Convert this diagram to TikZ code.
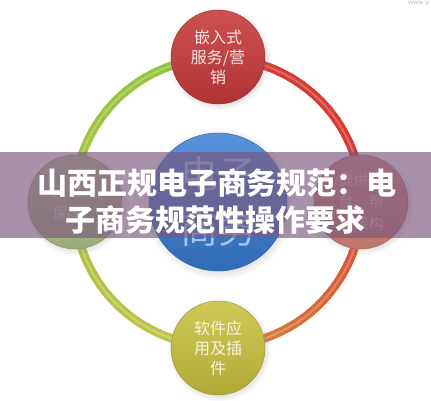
\documentclass[tikz,border=0pt]{standalone}
\usepackage{fontspec}
\newfontfamily\cjk{Noto Sans CJK SC}
\newfontfamily\cjkheavy{Noto Sans CJK SC Black}
\usetikzlibrary{shadows}

\definecolor{ringred}{HTML}{D63A34}
\definecolor{ringorange}{HTML}{D8883C}
\definecolor{ringgreen}{HTML}{8CC43E}
\definecolor{ringyellow}{HTML}{CAC34A}
\definecolor{topred}{HTML}{C83A3A}
\definecolor{sideorange}{HTML}{D88476}
\definecolor{sidegreen}{HTML}{B2C28C}
\definecolor{hubblue}{HTML}{3A7ED6}
\definecolor{lowyellow}{HTML}{C9C13E}
\definecolor{bannerpurple}{HTML}{7A587D}

\tikzset{
  button/.style={circle, inner sep=0pt, minimum size=#1,
    circular drop shadow={opacity=0.25, shadow xshift=1pt, shadow yshift=-1.5pt}},
  buttontext/.style={font=\cjk\fontsize{16}{20}\selectfont, align=center},
  bannertext/.style={font=\cjkheavy\fontsize{30}{30}\selectfont, text=white, inner sep=0pt}
}

\begin{document}
\begin{tikzpicture}[x=1pt,y=1pt]
  \useasboundingbox (0,0) rectangle (431,400);
  \fill[white] (0,0) rectangle (431,400);
  \coordinate (hub) at (218,198);

  % ring, right half red to orange, left half green to yellow
  \foreach \a in {90,85,...,-85} {
    \pgfmathtruncatemacro\p{\a>=20 ? 100 : (\a+90)/1.1}
    \draw[line width=8.5pt, color=ringred!\p!ringorange]
      ([shift={(\a:144pt)}]hub) arc[start angle=\a, end angle=\a-6, radius=144pt];
  }
  \foreach \a in {90,95,...,265} {
    \pgfmathtruncatemacro\p{(270-\a)/1.8}
    \draw[line width=8.5pt, color=ringgreen!\p!ringyellow]
      ([shift={(\a:144pt)}]hub) arc[start angle=\a, end angle=\a+6, radius=144pt];
  }
  \draw[white, opacity=0.25, line width=2pt] (hub) circle[radius=144pt];

  % buttons
  \node[button=94pt, top color=topred!88!white, bottom color=topred!88!black,
    draw=topred!75!black, buttontext, text=topred!15!white]
    (embed) at (218,343) {嵌入式\\服务/营\\销};
  \node[button=94pt, top color=lowyellow!88!white, bottom color=lowyellow!88!black,
    draw=lowyellow!75!black, buttontext, text=lowyellow!15!white]
    (plugin) at (218,52) {软件应\\用及插\\件};
  \node[button=94pt, top color=sideorange!90!white, bottom color=sideorange!88!black,
    draw=sideorange!75!black, buttontext, font=\cjk\fontsize{15}{22}\selectfont, text=sideorange!55!white]
    (platform) at (361,198) {提供平\\台、帮\\助架构};
  \node[button=94pt, top color=sidegreen!90!white, bottom color=sidegreen!88!black,
    draw=sidegreen!75!black, buttontext, font=\cjk\fontsize{15}{22}\selectfont, text=sidegreen!55!white, align=left]
    (payment) at (75,198) {支付与\\保障};
  \node[button=138pt, top color=hubblue!85!white, bottom color=hubblue!85!black,
    draw=hubblue!75!black, font=\cjk\fontsize{38}{55}\selectfont, align=center, text=hubblue!45!white]
    (ecommerce) at (218,198) {电子\\商务};

  % banner
  \fill[bannerpurple, opacity=0.65] (0,162) rectangle (431,248);
  \node[bannertext] (title1) at (217,217) {山西正规电子商务规范：电};
  \node[bannertext] (title2) at (215,180) {子商务规范性操作要求};

  \node[font=\sffamily\fontsize{7}{7}\selectfont, text=black!30, anchor=west, inner sep=0pt]
    (mark) at (408,396) {www.y};
\end{tikzpicture}
\end{document}
